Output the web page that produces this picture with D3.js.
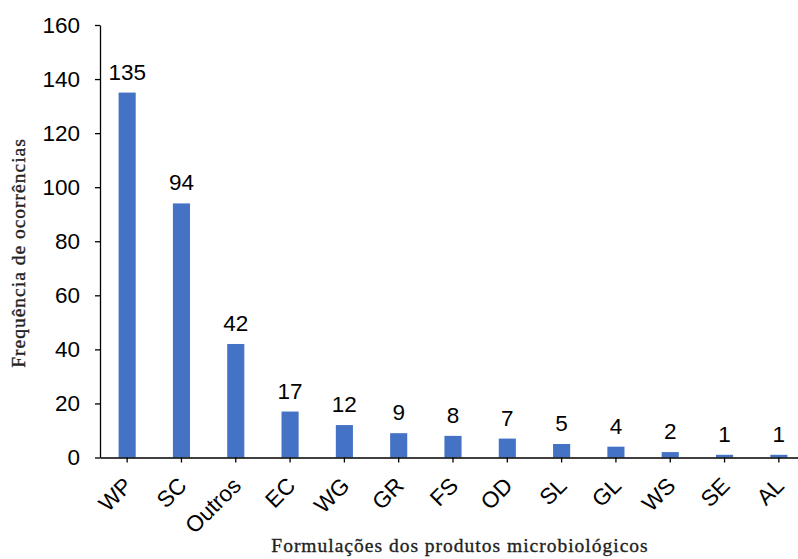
<!DOCTYPE html>
<html>
<head>
<meta charset="utf-8">
<script src="https://cdn.jsdelivr.net/npm/d3@7"></script>
<style>
  html, body { margin: 0; padding: 0; background: #fff; }
  svg { display: block; }
</style>
</head>
<body>
<svg id="chart" width="798" height="559"></svg>
<script>
// Formulation types and their number of occurrences
const categories = ["WP", "SC", "Outros", "EC", "WG", "GR", "FS", "OD", "SL", "GL", "WS", "SE", "AL"];
const counts = [135, 94, 42, 17, 12, 9, 8, 7, 5, 4, 2, 1, 1];
const yTicks = [0, 20, 40, 60, 80, 100, 120, 140, 160];
const xTitle = "Formulações dos produtos microbiológicos";
const yTitle = "Frequência de ocorrências";

const svg = d3.select("#chart");
const plotLeft = 100, plotRight = 806, plotTop = 25, plotBottom = 457.5;

const x = d3.scaleBand().domain(categories).range([plotLeft, plotRight]).paddingInner(0.685).paddingOuter(0.3425);
const y = d3.scaleLinear().domain([0, 160]).range([plotBottom, plotTop]);

const sans = "'Liberation Sans', Arial, sans-serif";
const serif = "'Liberation Serif', 'Times New Roman', serif";

// Bars
svg.append("g").selectAll("rect").data(counts).join("rect")
  .attr("x", (d, i) => x(categories[i]))
  .attr("width", x.bandwidth())
  .attr("y", d => y(d))
  .attr("height", d => y(0) - y(d))
  .attr("fill", "#4472C4");

// Value labels
svg.append("g").selectAll("text").data(counts).join("text")
  .attr("x", (d, i) => x(categories[i]) + x.bandwidth() / 2)
  .attr("y", d => y(d) - 13)
  .attr("text-anchor", "middle")
  .attr("font-family", sans)
  .attr("font-size", 22.5)
  .attr("fill", "#000")
  .text(d => d);

// Y axis
const yAxis = svg.append("g")
  .attr("transform", `translate(${plotLeft},0)`)
  .call(d3.axisLeft(y).tickValues(yTicks).tickSize(5).tickPadding(15).tickSizeOuter(0));
yAxis.select(".domain").attr("stroke", "#000").attr("stroke-width", 1.3);
yAxis.selectAll(".tick line").attr("stroke", "#000").attr("stroke-width", 1.3);
yAxis.selectAll(".tick text").attr("font-family", sans).attr("font-size", 22.5).attr("fill", "#000");

// X axis
const xAxis = svg.append("g")
  .attr("transform", `translate(0,${plotBottom})`)
  .call(d3.axisBottom(x).tickSize(5).tickSizeOuter(0));
xAxis.select(".domain").attr("stroke", "#000").attr("stroke-width", 1.3);
xAxis.selectAll(".tick line").attr("stroke", "#000").attr("stroke-width", 1.3);
xAxis.selectAll(".tick text")
  .attr("font-family", sans).attr("font-size", 22.5).attr("fill", "#000")
  .attr("text-anchor", "end")
  .attr("dy", "0.35em")
  .attr("transform", "translate(1,24) rotate(-45)")
  .attr("x", 0).attr("y", 0);

// Axis titles
svg.append("text")
  .attr("x", 460).attr("y", 552)
  .attr("text-anchor", "middle")
  .attr("font-family", serif).attr("font-size", 19.5).attr("fill", "#222")
  .attr("stroke", "#222").attr("stroke-width", 0.35)
  .attr("letter-spacing", 1)
  .text(xTitle);

svg.append("text")
  .attr("transform", "translate(25,253) rotate(-90)")
  .attr("text-anchor", "middle")
  .attr("font-family", serif).attr("font-size", 19.5).attr("fill", "#222")
  .attr("stroke", "#222").attr("stroke-width", 0.35)
  .attr("letter-spacing", 1)
  .text(yTitle);
</script>
</body>
</html>
